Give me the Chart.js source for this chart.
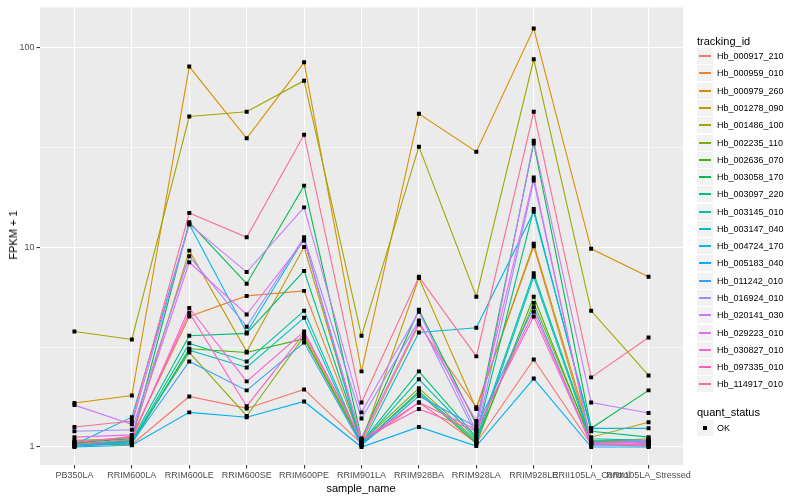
<!DOCTYPE html>
<html>
<head>
<meta charset="utf-8">
<script src="https://cdn.jsdelivr.net/npm/chart.js@4.4.1/dist/chart.umd.min.js"></script>
<style>
    body { margin: 0; background: #fff; font-family: "Liberation Sans", Arial, sans-serif; }
    #wrap { position: relative; width: 800px; height: 500px; }
    #grafico { position: absolute; left: 0; top: 0; }
    .txt { position: absolute; white-space: nowrap; color: #000; }
    #ytitle { left: 13px; top: 235px; font-size: 11px; transform: translate(-50%, -50%) rotate(-90deg); }
    #xtitle { left: 361px; top: 488px; font-size: 11px; transform: translate(-50%, -50%); }
    .ltitle { left: 697px; font-size: 11px; transform: translateY(-50%); }
    .lrow { position: absolute; left: 697px; height: 17px; }
    .lkey { position: absolute; left: 0; top: 0; width: 16px; height: 16px; background: #F2F2F2; border-right: 1px solid #fff; border-bottom: 1px solid #fff; }
    .lkey i { position: absolute; left: 2px; width: 12px; top: 7px; height: 1.5px; }
    .lkey b { position: absolute; left: 6px; top: 6px; width: 4px; height: 4px; background: #000; }
    .llab { position: absolute; left: 20px; top: 8px; font-size: 9px; transform: translateY(-50%); white-space: nowrap; }
</style>
</head>
<body>
<div id="wrap">
    <canvas id="grafico" width="800" height="500"></canvas>
    <div class="txt" id="ytitle">FPKM + 1</div>
    <div class="txt" id="xtitle">sample_name</div>
    <div class="txt ltitle" style="top:40.5px">tracking_id</div>
    <div id="legenda"></div>
    <div class="txt ltitle" style="top:412px">quant_status</div>
    <div class="lrow" style="top:420px"><div class="lkey"><b></b></div><div class="llab">OK</div></div>
</div>
<script>
const samples = ["PB350LA", "RRIM600LA", "RRIM600LE", "RRIM600SE", "RRIM600PE", "RRIM901LA",
    "RRIM928BA", "RRIM928LA", "RRIM928LE", "RRII105LA_Control", "RRII105LA_Stressed"];

const trackingIds = ["Hb_000917_210", "Hb_000959_010", "Hb_000979_260", "Hb_001278_090", "Hb_001486_100",
    "Hb_002235_110", "Hb_002636_070", "Hb_003058_170", "Hb_003097_220", "Hb_003145_010",
    "Hb_003147_040", "Hb_004724_170", "Hb_005183_040", "Hb_011242_010", "Hb_016924_010",
    "Hb_020141_030", "Hb_029223_010", "Hb_030827_010", "Hb_097335_010", "Hb_114917_010"];

const cores = ["#F8766D", "#EA8331", "#D89000", "#C09B00", "#A3A500", "#7CAE00", "#39B600", "#00BB4E",
    "#00BF7D", "#00C1A3", "#00BFC4", "#00BAE0", "#00B0F6", "#35A2FF", "#9590FF", "#C77CFF",
    "#E76BF3", "#FA62DB", "#FF62BC", "#FF6C91"];

// FPKM + 1, one row per tracking_id, one column per sample
const fpkm = [
    [1.02, 1.03, 1.79, 1.56, 1.94, 1.04, 1.67, 1.05, 2.74, 1.03, 1.01],
    [1.04, 1.13, 4.5, 5.7, 6.04, 1.06, 4.1, 1.58, 10.1, 1.06, 1.1],
    [1.66, 1.81, 80, 35, 84, 2.39, 46.4, 30, 124, 9.8, 7.1],
    [1.08, 1.1, 9.6, 3.0, 10.0, 1.05, 7.0, 1.55, 10.4, 1.12, 1.33],
    [3.78, 3.45, 45, 47.5, 68, 3.6, 31.8, 5.65, 87, 4.8, 2.28],
    [1.04, 1.07, 2.97, 1.43, 3.57, 1.06, 1.97, 1.08, 5.26, 1.08, 1.07],
    [1.02, 1.04, 3.1, 2.97, 3.48, 1.04, 1.86, 1.04, 5.65, 1.06, 1.05],
    [1.05, 1.1, 13.3, 6.56, 20.3, 1.1, 4.86, 1.3, 33, 1.24, 1.92],
    [1.02, 1.08, 3.6, 3.7, 7.6, 1.05, 2.39, 1.12, 15.5, 1.2, 1.12],
    [1.03, 1.06, 3.3, 2.68, 4.8, 1.04, 2.18, 1.1, 7.4, 1.1, 1.08],
    [1.01, 1.05, 3.05, 2.5, 4.43, 1.03, 1.9, 1.06, 7.1, 1.07, 1.06],
    [1.03, 1.41, 13.0, 3.74, 11.0, 1.02, 3.74, 3.95, 15, 1.24, 1.24],
    [1.0, 1.02, 1.49, 1.41, 1.69, 1.0, 1.26, 1.01, 2.2, 1.0, 1.0],
    [1.02, 1.05, 2.68, 1.92, 3.33, 1.02, 1.8, 1.26, 5.0, 1.02, 1.03],
    [1.2, 1.22, 9.0, 4.0, 11.2, 1.39, 4.3, 1.15, 21.5, 1.05, 1.08],
    [1.62, 1.3, 13.0, 7.5, 15.8, 1.49, 4.75, 1.2, 34, 1.67, 1.48],
    [1.12, 1.15, 8.4, 4.6, 10.8, 1.1, 4.2, 1.35, 22.3, 1.04, 1.06],
    [1.03, 1.09, 4.96, 2.13, 3.78, 1.08, 1.67, 1.22, 4.5, 1.03, 1.04],
    [1.06, 1.12, 4.7, 1.6, 3.7, 1.09, 1.55, 1.2, 4.75, 1.04, 1.02],
    [1.26, 1.35, 14.8, 11.2, 36.5, 1.67, 7.1, 2.84, 47.5, 2.23, 3.53]
];

const yTicks = [1, 10, 100];
const yTickLabels = ["1", "10", "100"];
const yMinor = [Math.sqrt(10), Math.sqrt(1000)];

const fonte = "'Liberation Sans', Arial, sans-serif";

function montarLegenda() {
    const div = document.getElementById("legenda");
    trackingIds.forEach((id, i) => {
        const top = Math.round(48.1 + i * 17.28);
        div.innerHTML += `<div class="lrow" style="top:${top}px">
            <div class="lkey"><i style="background:${cores[i]}"></i></div>
            <div class="llab">${id}</div></div>`;
    });
}

const fundoPainel = {
    id: "fundoPainel",
    beforeDraw(chart) {
        const { ctx, chartArea: a } = chart;
        ctx.save();
        ctx.fillStyle = "#EBEBEB";
        ctx.fillRect(a.left, a.top, a.right - a.left, a.bottom - a.top);
        ctx.restore();
    }
};

function gerarGrafico() {
    const linhas = fpkm.map((serie, i) => ({
        label: trackingIds[i],
        data: serie.map((v, j) => ({ x: j, y: v })),
        borderColor: cores[i],
        backgroundColor: cores[i],
        borderWidth: 1.1,
        pointRadius: 0,
        fill: false,
        order: fpkm.length - i
    }));

    const pontos = {
        label: "OK",
        data: fpkm.flatMap(serie => serie.map((v, j) => ({ x: j, y: v }))),
        showLine: false,
        pointStyle: "rect",
        pointRadius: 2.8,
        pointBackgroundColor: "#000",
        pointBorderColor: "#000",
        pointBorderWidth: 0,
        order: -1
    };

    new Chart(document.getElementById("grafico"), {
        type: "line",
        data: { datasets: [...linhas, pontos] },
        options: {
            responsive: false,
            animation: false,
            events: [],
            layout: { padding: { left: 0, top: 5, right: 117, bottom: 0 } },
            plugins: { legend: { display: false }, tooltip: { enabled: false } },
            scales: {
                x: {
                    type: "linear",
                    min: -0.6,
                    max: samples.length - 1 + 0.6,
                    afterBuildTicks(scale) {
                        scale.ticks = samples.map((s, i) => ({ value: i }));
                    },
                    afterFit(scale) { scale.height = 35; },
                    ticks: {
                        callback: v => samples[v],
                        autoSkip: false,
                        maxRotation: 0,
                        minRotation: 0,
                        color: "#4D4D4D",
                        font: { size: 9, family: fonte },
                        padding: 2
                    },
                    grid: { color: "#FFFFFF", lineWidth: 1.07, tickColor: "#333333", tickLength: 3.5 },
                    border: { display: false }
                },
                y: {
                    type: "logarithmic",
                    min: Math.pow(10, -0.09),
                    max: Math.pow(10, 2.199),
                    afterBuildTicks(scale) {
                        scale.ticks = [...yTicks, ...yMinor].sort((a, b) => a - b).map(v => ({ value: v }));
                    },
                    afterFit(scale) { scale.width = 40; },
                    ticks: {
                        callback: v => {
                            const k = yTicks.indexOf(v);
                            return k >= 0 ? yTickLabels[k] : "";
                        },
                        color: "#4D4D4D",
                        font: { size: 9, family: fonte },
                        padding: 2
                    },
                    grid: {
                        color: "#FFFFFF",
                        lineWidth: c => (c.tick && yTicks.includes(c.tick.value)) ? 1.07 : 0.53,
                        tickColor: c => (c.tick && yTicks.includes(c.tick.value)) ? "#333333" : "rgba(0,0,0,0)",
                        tickLength: 3.5
                    },
                    border: { display: false }
                }
            }
        },
        plugins: [fundoPainel]
    });
}

document.addEventListener("DOMContentLoaded", function () {
    montarLegenda();
    gerarGrafico();
});
</script>
</body>
</html>
